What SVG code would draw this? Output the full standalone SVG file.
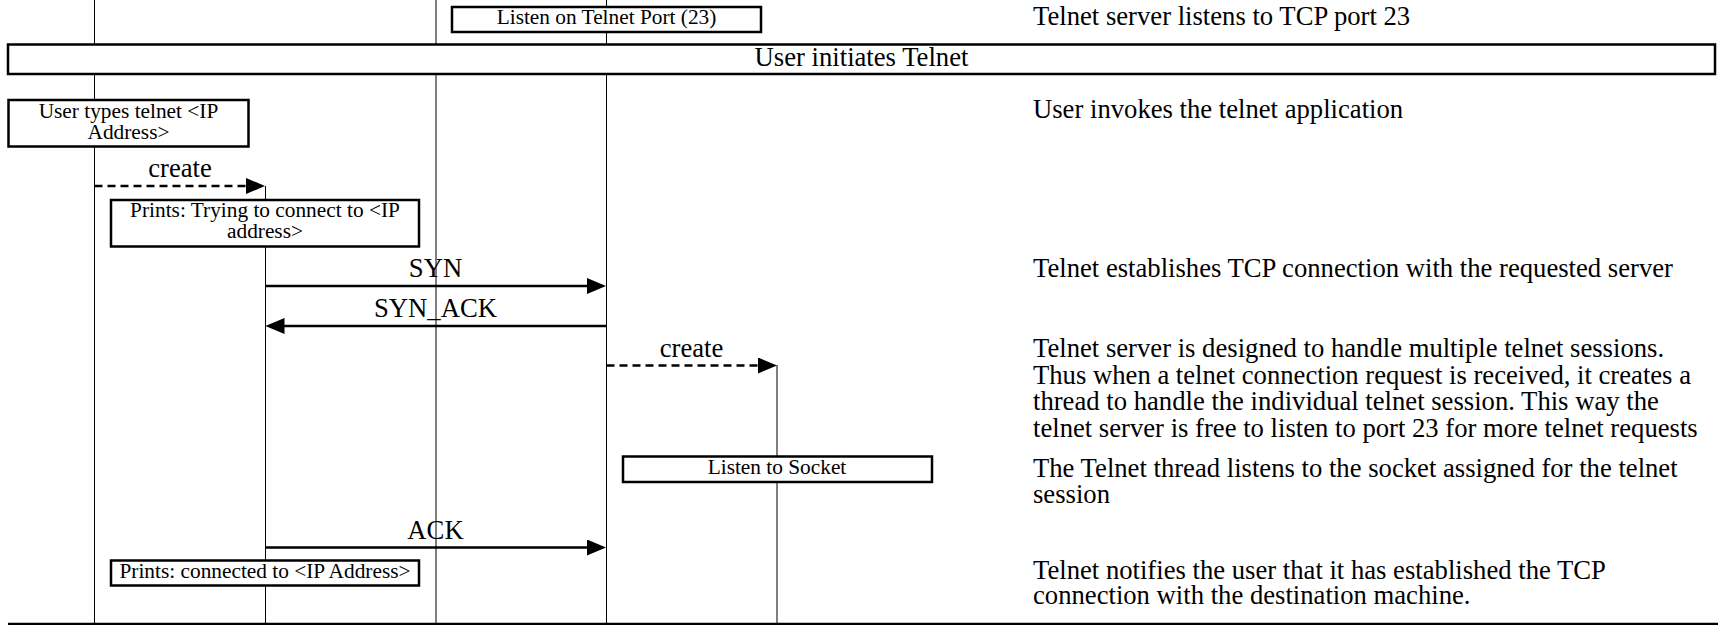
<svg xmlns="http://www.w3.org/2000/svg" width="1718" height="625" viewBox="0 0 1718 625">
<defs>
<style>
.lifeline{stroke:#000;stroke-width:1;fill:none}
.box{fill:#fff;stroke:#000;stroke-width:2.5}
.msg{stroke:#000;stroke-width:2.5;fill:none}
.dash{stroke-dasharray:8 5}
text{font-family:"Liberation Serif","Times New Roman",serif;fill:#000}
.s{font-size:21.33px;text-anchor:middle}
.b{font-size:26.67px}
.m{text-anchor:middle}
</style>
<marker id="ah" markerUnits="userSpaceOnUse" markerWidth="19" markerHeight="16" refX="9" refY="8" orient="auto">
<path d="M0,0 L19,8 L0,16 Z" fill="#000"/>
</marker>
</defs>
<rect width="1718" height="625" fill="#fff"/>
<g id="lifelines">
<line class="lifeline" x1="94.5" y1="0" x2="94.5" y2="623"/>
<line class="lifeline" x1="265.5" y1="186" x2="265.5" y2="623"/>
<line class="lifeline" x1="436" y1="0" x2="436" y2="623"/>
<line class="lifeline" x1="606.5" y1="0" x2="606.5" y2="623"/>
<line class="lifeline" x1="777" y1="365" x2="777" y2="623"/>
</g>
<g id="listen-port">
<rect class="box" x="452" y="7" width="309" height="25"/>
<text class="s" x="606.5" y="23.5">Listen on Telnet Port (23)</text>
</g>
<g id="note-listen-port"><text class="b" x="1033" y="25">Telnet server listens to TCP port 23</text></g>
<g id="user-initiates">
<rect class="box" x="8" y="44.5" width="1707" height="29.5"/>
<text class="b m" x="861.5" y="65.5">User initiates Telnet</text>
</g>
<g id="user-types">
<rect class="box" x="8.5" y="100" width="240" height="46.5"/>
<text class="s" x="128.5" y="118.3">User types telnet &lt;IP</text>
<text class="s" x="128.5" y="139">Address&gt;</text>
</g>
<g id="note-user-invokes"><text class="b" x="1033" y="118">User invokes the telnet application</text></g>
<g id="prints-trying">
<rect class="box" x="111" y="200" width="308" height="46.5"/>
<text class="s" x="265" y="216.7">Prints: Trying to connect to &lt;IP</text>
<text class="s" x="265" y="238">address&gt;</text>
</g>
<g id="note-tcp"><text class="b" x="1033" y="277">Telnet establishes TCP connection with the requested server</text></g>
<g id="note-server">
<text class="b" x="1033" y="357">Telnet server is designed to handle multiple telnet sessions.</text>
<text class="b" x="1033" y="383.7">Thus when a telnet connection request is received, it creates a</text>
<text class="b" x="1033" y="410.3">thread to handle the individual telnet session. This way the</text>
<text class="b" x="1033" y="437">telnet server is free to listen to port 23 for more telnet requests</text>
</g>
<g id="listen-socket">
<rect class="box" x="623" y="456.5" width="309" height="25.5"/>
<text class="s" x="777" y="474.3">Listen to Socket</text>
</g>
<g id="note-thread">
<text class="b" x="1033" y="477">The Telnet thread listens to the socket assigned for the telnet</text>
<text class="b" x="1033" y="503">session</text>
</g>
<g id="prints-connected">
<rect class="box" x="111" y="560.5" width="308" height="25"/>
<text class="s" x="265" y="578">Prints: connected to &lt;IP Address&gt;</text>
</g>
<g id="note-notify">
<text class="b" x="1033" y="578.7">Telnet notifies the user that it has established the TCP</text>
<text class="b" x="1033" y="604">connection with the destination machine.</text>
</g>
<g id="connectors">
<line class="msg dash" x1="94.5" y1="186" x2="255" y2="186" marker-end="url(#ah)"/>
<text class="b m" x="180" y="177">create</text>
<line class="msg" x1="265.5" y1="286" x2="596" y2="286" marker-end="url(#ah)"/>
<text class="b m" x="435.5" y="277">SYN</text>
<line class="msg" x1="606.5" y1="326" x2="275.5" y2="326" marker-end="url(#ah)"/>
<text class="b m" x="435.5" y="317">SYN_ACK</text>
<line class="msg dash" x1="606.5" y1="365.5" x2="767" y2="365.5" marker-end="url(#ah)"/>
<text class="b m" x="691.5" y="357">create</text>
<line class="msg" x1="265.5" y1="547.5" x2="596" y2="547.5" marker-end="url(#ah)"/>
<text class="b m" x="435.5" y="539">ACK</text>
</g>
<g id="frame">
<line class="msg" x1="8" y1="624" x2="1718" y2="624"/>
</g>
</svg>
